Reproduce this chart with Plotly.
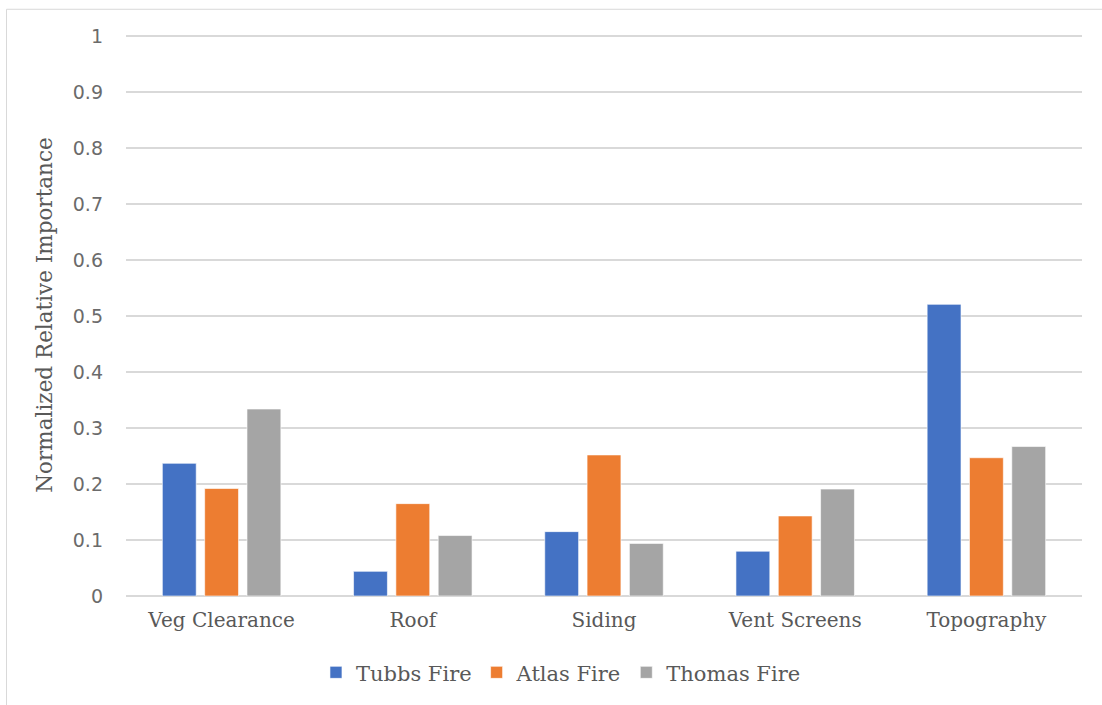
import plotly.graph_objects as go

categories = ["Veg Clearance", "Roof", "Siding", "Vent Screens", "Topography"]
tubbs = [0.237, 0.044, 0.115, 0.080, 0.521]
atlas = [0.192, 0.165, 0.252, 0.143, 0.247]
thomas = [0.334, 0.108, 0.094, 0.191, 0.267]
y_ticks = [0, 0.1, 0.2, 0.3, 0.4, 0.5, 0.6, 0.7, 0.8, 0.9, 1]
y_tick_text = ["0", "0.1", "0.2", "0.3", "0.4", "0.5", "0.6", "0.7", "0.8", "0.9", "1"]

series = [
    ("Tubbs Fire", tubbs, "#4472C4"),
    ("Atlas Fire", atlas, "#ED7D31"),
    ("Thomas Fire", thomas, "#A5A5A5"),
]

slab = "DejaVu Serif, Liberation Serif, serif"
sans = "DejaVu Sans, Noto Sans, sans-serif"
text_grey = "#595959"

fig = go.Figure()
for name, vals, color in series:
    fig.add_trace(go.Bar(
        x=categories, y=vals, name=name,
        marker=dict(color=color, line=dict(color="rgba(255,255,255,0.6)", width=1)),
    ))

y_top = 1.004

fig.update_layout(
    width=1102, height=705,
    margin=dict(l=126, r=20, t=34, b=105),
    paper_bgcolor="white", plot_bgcolor="white",
    barmode="group", bargap=0.336, bargroupgap=0.2,
    showlegend=True,
    legend=dict(
        orientation="h", x=0.455, xanchor="center", y=-0.1, yanchor="top",
        font=dict(family=slab, size=21, color=text_grey),
        traceorder="normal",
    ),
    shapes=[dict(
        type="rect", xref="paper", yref="paper",
        x0=-0.125, x1=1.03, y0=-0.22, y1=1.044,
        line=dict(color="#D9D9D9", width=1), fillcolor="rgba(0,0,0,0)", layer="below",
    )],
)

fig.update_xaxes(
    showgrid=False, showline=False, zeroline=False,
    tickfont=dict(family=slab, size=20, color=text_grey),
    ticks="", ticklabelstandoff=10,
)
fig.update_yaxes(
    range=[0, y_top], tickvals=y_ticks, ticktext=y_tick_text,
    showgrid=True, gridcolor="#D9D9D9", gridwidth=1.5,
    zeroline=True, zerolinecolor="#D9D9D9", zerolinewidth=1.5,
    showline=False, ticks="", ticklabelstandoff=22,
    tickfont=dict(family=sans, size=19, color="#6b6b6b"),
    title=dict(text="Normalized Relative Importance", standoff=14,
               font=dict(family=slab, size=21.5, color=text_grey)),
)

fig.write_html("out.html")
